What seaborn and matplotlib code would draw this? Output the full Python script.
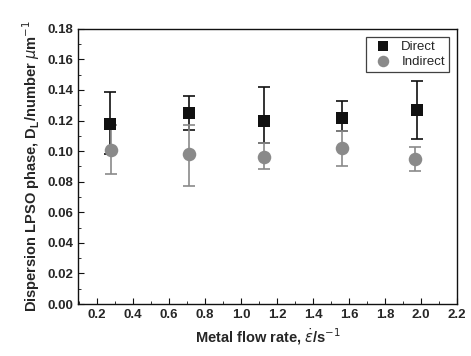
import numpy as np
import matplotlib
matplotlib.use('Agg')
import matplotlib.pyplot as plt
import seaborn as sns

BLACK = '#111111'
GREY = '#8a8a8a'

# data
flow_direct = [0.27, 0.71, 1.13, 1.56, 1.98]
dl_direct = [0.118, 0.125, 0.120, 0.122, 0.127]
lo_direct = [0.098, 0.114, 0.105, 0.113, 0.108]
hi_direct = [0.139, 0.136, 0.142, 0.133, 0.146]

flow_indirect = [0.28, 0.71, 1.13, 1.56, 1.97]
dl_indirect = [0.101, 0.098, 0.096, 0.102, 0.095]
lo_indirect = [0.085, 0.077, 0.088, 0.090, 0.087]
hi_indirect = [0.117, 0.117, 0.105, 0.113, 0.103]

xticks = [0.2, 0.4, 0.6, 0.8, 1.0, 1.2, 1.4, 1.6, 1.8, 2.0, 2.2]
yticks = [0.00, 0.02, 0.04, 0.06, 0.08, 0.10, 0.12, 0.14, 0.16, 0.18]

sns.set_style('ticks')
plt.rcParams['font.family'] = ['Liberation Sans', 'DejaVu Sans']
plt.rcParams['mathtext.fontset'] = 'dejavusans'

fig = plt.figure(figsize=(4.71, 3.56), dpi=100)
ax = fig.add_axes([0.166, 0.146, 0.804, 0.773])

d = np.array(dl_direct)
ax.errorbar(flow_direct, d, yerr=[d - np.array(lo_direct), np.array(hi_direct) - d],
            fmt='none', ecolor=BLACK, elinewidth=1.2, capsize=4, capthick=1.2, zorder=2)
i = np.array(dl_indirect)
ax.errorbar(flow_indirect, i, yerr=[i - np.array(lo_indirect), np.array(hi_indirect) - i],
            fmt='none', ecolor=GREY, elinewidth=1.2, capsize=4, capthick=1.2, zorder=3)

sns.scatterplot(x=flow_direct, y=dl_direct, marker='s', s=75, color=BLACK,
                edgecolor=BLACK, linewidth=0, label='Direct', ax=ax, zorder=4)
sns.scatterplot(x=flow_indirect, y=dl_indirect, marker='o', s=95, color=GREY,
                edgecolor=GREY, linewidth=0, label='Indirect', ax=ax, zorder=5)

ax.set_xlim(0.095, 2.2)
ax.set_ylim(0, 0.18)
ax.set_xticks(xticks)
ax.set_xticklabels([f'{v:.1f}' for v in xticks])
ax.set_yticks(yticks)
ax.set_yticklabels([f'{v:.2f}' for v in yticks])
ax.set_xticks(np.arange(0.1, 2.2, 0.2), minor=True)
ax.set_yticks(np.arange(0.01, 0.18, 0.02), minor=True)
ax.tick_params(which='both', direction='in', top=False, right=False, color=BLACK)
ax.tick_params(which='major', length=4, labelsize=9.5)
ax.tick_params(which='minor', length=2)
for lab in ax.get_xticklabels() + ax.get_yticklabels():
    lab.set_fontweight('bold')
for sp in ax.spines.values():
    sp.set_color(BLACK)
    sp.set_linewidth(1.0)

ax.set_xlabel(r'Metal flow rate, $\dot{\varepsilon}$/s$^{-1}$', fontsize=10.5,
              fontweight='bold', labelpad=4)
ax.set_ylabel(r'Dispersion LPSO phase, D$_\mathregular{L}$/number $\mu$m$^{-1}$',
              fontsize=10.5, fontweight='bold', labelpad=4)

leg = ax.legend(loc='upper right', frameon=True, fancybox=False, fontsize=9.5,
                markerscale=0.85, handletextpad=0.4, borderpad=0.3,
                labelspacing=0.2, borderaxespad=0.6)
leg.get_frame().set_edgecolor(BLACK)
leg.get_frame().set_linewidth(0.9)

fig.savefig('out.png', dpi=100)
